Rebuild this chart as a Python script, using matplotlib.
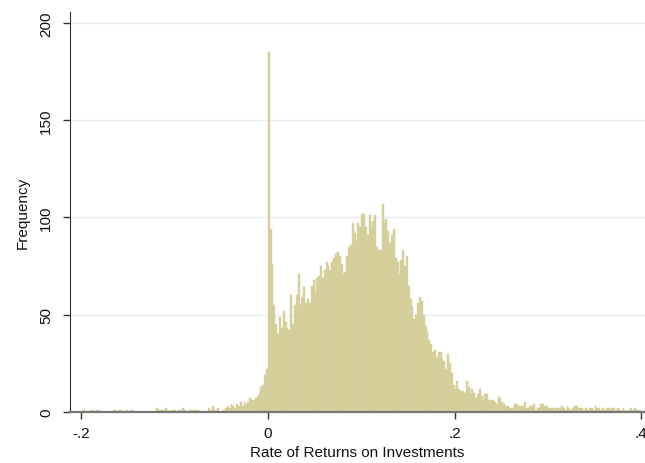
import numpy as np
import matplotlib.pyplot as plt

plt.rcParams['font.family'] = ['Liberation Sans', 'DejaVu Sans']

#--------------- Histogram data (bin width .002, first bin starts at -.2) ---------------
bin_width = 0.002
first_edge = -0.2

# bins from -.2 up to 0
counts_negative = [0, 1, 0, 0, 0, 1, 1, 0, 1, 1,
                   0, 0, 0, 0, 0, 0, 0, 1, 1, 0,
                   1, 1, 0, 0, 1, 0, 1, 1, 0, 0,
                   0, 0, 0, 0, 0, 0, 0, 0, 0, 0,
                   2, 1, 1, 1, 1, 2, 1, 0, 1, 1,
                   1, 0, 1, 1, 2, 1, 0, 0, 1, 1,
                   1, 1, 1, 0, 0, 0, 0, 0, 2, 1,
                   3, 1, 1, 2, 0, 0, 1, 2, 3, 2,
                   4, 3, 2, 4, 3, 5, 3, 5, 4, 5,
                   7, 6, 6, 7, 8, 10, 13, 14, 19, 22]

# bins from 0 to .2
counts_body = [185, 94, 76, 55, 45, 40, 49, 43, 52, 46,
               43, 42, 60, 45, 55, 60, 71, 55, 59, 64,
               56, 58, 56, 65, 68, 61, 69, 70, 75, 69,
               73, 77, 75, 73, 77, 79, 81, 82, 80, 76,
               71, 72, 80, 85, 86, 97, 92, 88, 97, 95,
               102, 102, 95, 91, 101, 95, 98, 101, 85, 83,
               83, 107, 97, 99, 93, 87, 91, 94, 79, 77,
               71, 78, 83, 75, 80, 65, 58, 54, 48, 50,
               56, 59, 57, 50, 44, 41, 37, 35, 31, 32,
               28, 31, 31, 27, 26, 22, 30, 25, 20, 14]

# bins from .2 to .4
counts_tail = [12, 16, 12, 11, 11, 10, 16, 13, 9, 12,
               10, 7, 9, 12, 8, 6, 9, 9, 6, 6,
               6, 5, 4, 8, 7, 5, 4, 3, 3, 2,
               2, 2, 4, 4, 3, 3, 3, 5, 2, 2,
               3, 3, 4, 1, 2, 2, 4, 4, 3, 3,
               2, 2, 2, 1, 2, 2,
               2, 3, 2, 1, 3, 2, 1, 2, 3, 3,
               2, 2, 2, 1, 2, 1, 2, 2, 1, 3,
               2, 2, 1, 2, 1, 2, 2, 1, 2, 2,
               1, 2, 1, 1, 2, 1, 0, 1, 2, 1,
               2, 1, 1, 1]

x_ticks = [-0.2, 0, 0.2, 0.4]
x_tick_labels = ['-.2', '0', '.2', '.4']
y_ticks = [0, 50, 100, 150, 200]
y_tick_labels = ['0', '50', '100', '150', '200']

counts = np.array(counts_negative + counts_body + counts_tail)
edges = first_edge + bin_width * np.arange(len(counts) + 1)

#--------------- Plot ---------------
fig = plt.figure(figsize=(6.45, 4.64), dpi=100)
ax = fig.add_axes([0.1085, 0.11, 0.8915, 0.862])

ax.hist(edges[:-1], bins=edges, weights=counts, color='#D6D19D',
        edgecolor='#D2CC95', linewidth=0.3, zorder=2)

ax.set_xlim(-0.212, 0.404)
ax.set_ylim(0, 205.6)

for y in y_ticks[1:]:
    ax.axhline(y, color='#E6F0F2', linewidth=1.0, zorder=1)

ax.set_xticks(x_ticks)
ax.set_xticklabels(x_tick_labels)
ax.set_yticks(y_ticks)
ax.set_yticklabels(y_tick_labels, rotation=90, va='center')

ax.tick_params(axis='both', direction='out', length=5, width=1,
               color='#333333', labelsize=11, labelcolor='#111111')
ax.tick_params(axis='x', pad=5)
ax.tick_params(axis='y', pad=7)

ax.spines['top'].set_visible(False)
ax.spines['right'].set_visible(False)
ax.spines['left'].set_color('#333333')
ax.spines['bottom'].set_color('#777777')
ax.spines['bottom'].set_linewidth(1.6)

ax.set_xlabel('Rate of Returns on Investments', fontsize=11, color='#111111', labelpad=4)
ax.set_ylabel('Frequency', fontsize=11, color='#111111', labelpad=7)

fig.savefig('out.png', dpi=100)
